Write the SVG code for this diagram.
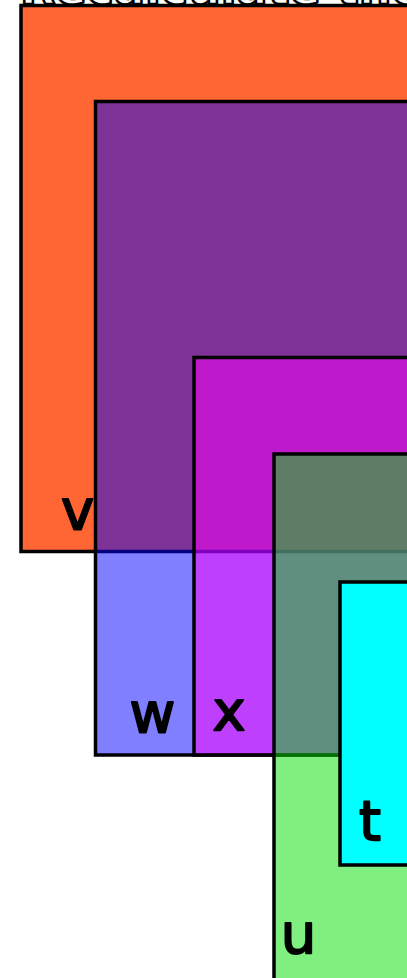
<svg xmlns="http://www.w3.org/2000/svg" width="407" height="978" viewBox="0 0 407 978">
  <style>
    .box { stroke: #000; stroke-width: 3.5; }
    .lbl { font-family: "DejaVu Sans", sans-serif; font-size: 56px; fill: #000; stroke: #000; stroke-width: 2; stroke-linejoin: round; text-anchor: middle; }
    .title { font-family: "DejaVu Sans", sans-serif; font-size: 46px; font-weight: bold; fill: #fff; stroke: #000; stroke-width: 2.5; stroke-linejoin: round; }
  </style>
  <rect width="407" height="978" fill="#fff"/>
  <g id="node-v">
    <rect class="box" x="21" y="5.5" width="500" height="546" fill="#ff6633"/>
    <text class="lbl" x="77.5" y="529">v</text>
  </g>
  <g id="node-w">
    <rect class="box" x="95.5" y="101.5" width="500" height="653.5" fill="#0000ff" fill-opacity="0.5"/>
    <text class="lbl" x="152.5" y="732">w</text>
  </g>
  <g id="node-x">
    <rect class="box" x="194" y="357.5" width="500" height="397.5" fill="#ff00ff" fill-opacity="0.5"/>
    <text class="lbl" x="229" y="730">x</text>
  </g>
  <g id="node-u">
    <rect class="box" x="274" y="454" width="500" height="600" fill="#00e000" fill-opacity="0.5"/>
    <text class="lbl" x="298.5" y="953">u</text>
  </g>
  <g id="node-t">
    <rect class="box" x="340" y="582" width="500" height="283" fill="#00ffff"/>
    <text class="lbl" x="370" y="840">t</text>
  </g>
  <g id="connectors"></g>
  <text class="title" x="20" y="4">Recalculate the</text>
</svg>
